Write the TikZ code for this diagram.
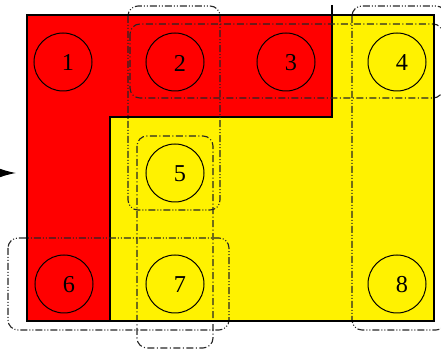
\documentclass[tikz,border=0pt]{standalone}
\usepackage{fontspec}
\setmainfont{Liberation Serif}
\usepackage{xcolor}
\usepackage{tikz}
\usetikzlibrary{
  arrows.meta,
  calc
}

\begin{document}
\begin{tikzpicture}[x = 0.4pt, y = -0.4pt]
  \tikzset{
    >=Latex,
    cell/.style = {draw, circle, thin, minimum size = 23.2pt, inner sep = 0pt},
    num/.style = {inner sep = 0pt, font = \fontsize{9.7}{11}\selectfont},
    groupA/.style = {draw = black!85, line width = 0.45pt, rounded corners = 4pt,
      dash pattern = on 2.8pt off 0.8pt on 0.4pt off 0.8pt on 0.4pt off 0.8pt},
    groupB/.style = {draw = black!85, line width = 0.45pt, rounded corners = 4pt,
      dash pattern = on 2.8pt off 1pt on 0.4pt off 1pt}
  }
  \useasboundingbox (0,0) rectangle (441,351);

  \fill[yellow] (27,15) rectangle (434,321);
  \fill[red] (27,15) -- (332,15) -- (332,117) -- (110,117) -- (110,321) -- (27,321) -- cycle;
  \draw[line width = 0.6pt] (332,5) -- (332,117) -- (110,117) -- (110,321);

  \node[cell] (c1) at (63,62) {};  \node[num] (n1) at (68,63) {1};
  \node[cell] (c2) at (175,62) {}; \node[num] (n2) at (180,63) {2};
  \node[cell] (c3) at (286,62) {}; \node[num] (n3) at (291,63) {3};
  \node[cell] (c4) at (397,62) {}; \node[num] (n4) at (402,63) {4};
  \node[cell] (c5) at (175,173) {}; \node[num] (n5) at (180,174) {5};
  \node[cell] (c6) at (64,284) {};  \node[num] (n6) at (69,285) {6};
  \node[cell] (c7) at (175,284) {}; \node[num] (n7) at (180,285) {7};
  \node[cell] (c8) at (397,284) {}; \node[num] (n8) at (402,285) {8};

  \draw[groupA] (128,6) rectangle (220,210);
  \draw[groupB] (130,24) rectangle (443,98);
  \draw[groupA] (352,6) rectangle (446,330);
  \draw[groupB] (137,136) rectangle (213,348);
  \draw[groupA] (8,238) rectangle (229,330);

  \draw[line width = 0.8pt] (27,15) rectangle (434,321);

  \coordinate (tail) at (-10,173);
  \coordinate (tip) at (16,173);
  \draw[-{Latex[length = 6.4pt, width = 3.4pt]}] (tail) -- (tip);
\end{tikzpicture}
\end{document}
